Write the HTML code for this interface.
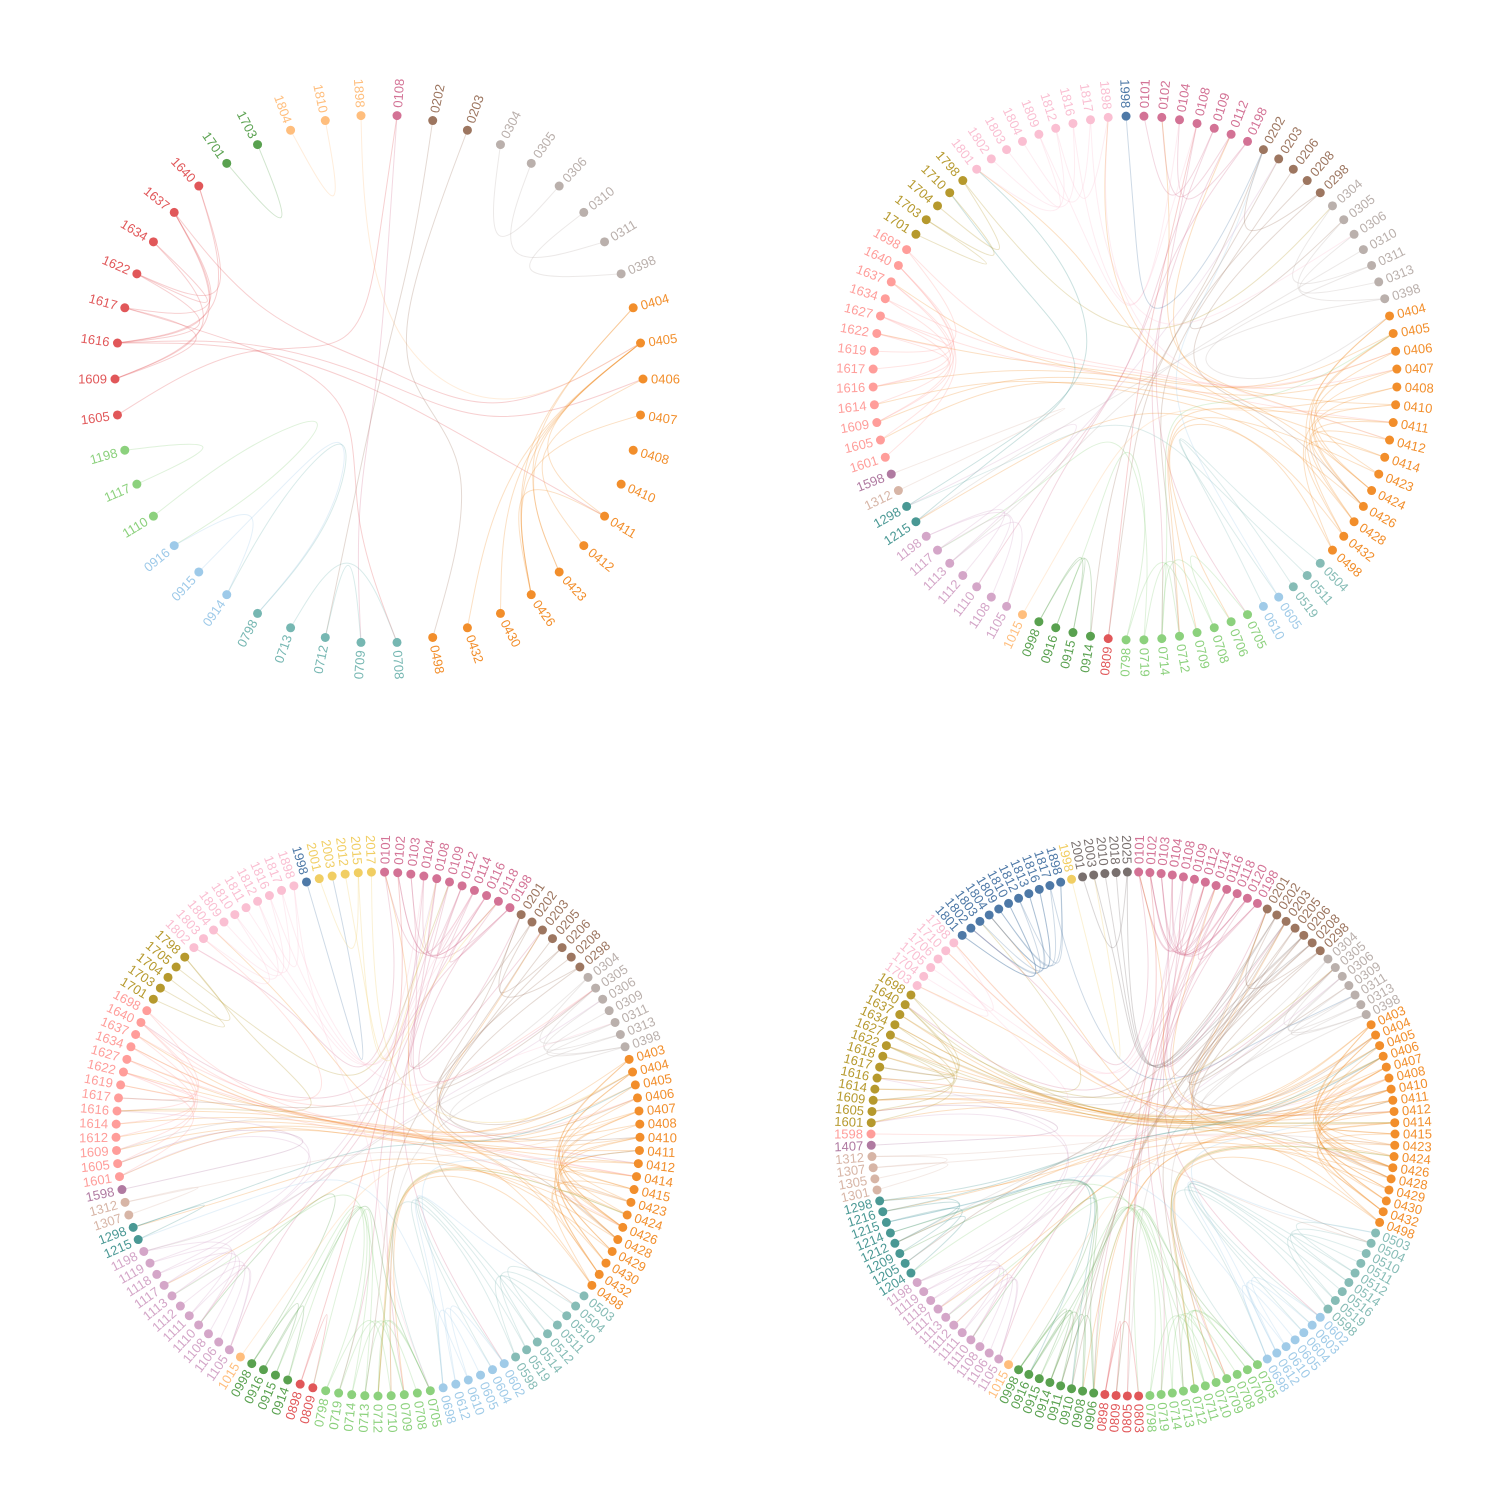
<!DOCTYPE html>
<html><head><meta charset="utf-8"><style>
html,body{margin:0;padding:0;background:#fff;}
svg{display:block;}
text{font-family:"Liberation Sans",Arial,sans-serif;font-size:13px;}
</style></head><body>
<svg id="chart" width="1512" height="1512" viewBox="0 0 1512 1512" xmlns="http://www.w3.org/2000/svg"></svg>
<script>
// ---- Panel data ----
const nodes1 = "0108 0202 0203 0304 0305 0306 0310 0311 0398 0404 0405 0406 0407 0408 0410 0411 0412 0423 0426 0430 0432 0498 0708 0709 0712 0713 0798 0914 0915 0916 1110 1117 1198 1605 1609 1616 1617 1622 1634 1637 1640 1701 1703 1804 1810 1898".split(" ");
const edges1 = "1640-1622 1640-1616 1637-1617 1637-1616 1637-1609 1634-1622 1634-1609 1622-1616 1617-1609 1605-0108 1616-0406 1616-0411 1637-0405 1617-0708 1198-1117 1110-0916 0916-0914 0915-0798 1703-1701 1804-1810 1898-0405 0108-0709 0202-0712 0203-0498 0304-0306 0305-0311 0310-0398 0404-0426 0405-0423 0405-0426 0405-0430 0405-0411 0406-0412 0407-0426 0404-0423 0713-0708 0712-0709 0798-0914 0432-0405 0411-0426".split(" ");
const colors1 = {"01":"#d37295","02":"#9d7660","03":"#bab0ac","04":"#f28e2b","07":"#76b7b2","09":"#9ecae9","11":"#8cd17d","16":"#e15759","17":"#59a14f","18":"#ffbe7d"};

const nodes2 = "0101 0102 0104 0108 0109 0112 0198 0202 0203 0206 0208 0298 0304 0305 0306 0310 0311 0313 0398 0404 0405 0406 0407 0408 0410 0411 0412 0414 0423 0424 0426 0428 0432 0498 0504 0511 0519 0605 0610 0705 0706 0708 0709 0712 0714 0719 0798 0809 0914 0915 0916 0998 1015 1105 1108 1110 1112 1113 1117 1198 1215 1298 1312 1598 1601 1605 1609 1614 1616 1617 1619 1622 1627 1634 1637 1640 1698 1701 1703 1704 1710 1798 1801 1802 1803 1804 1809 1812 1816 1817 1898 1998".split(" ");
const edges2 = "0101-0109 0102-0112 0104-0198 0108-0705 0109-1105 0112-0714 0198-1110 0202-0298 0202-0809 0203-0914 0206-0712 0208-0305 0298-0426 0304-0311 0305-0398 0306-0313 0310-1113 0311-0404 0398-1215 0404-0426 0404-0432 0405-0423 0405-0428 0405-1616 0406-0424 0406-1622 0407-0426 0407-1609 0408-0498 0408-0712 0410-0424 0410-1801 0411-0428 0411-1605 0412-0426 0412-0102 0414-0432 0414-1637 0423-0709 0424-0112 0426-1614 0428-1898 0432-1215 0498-0706 0504-0610 0511-1298 0519-0605 0605-0202 0705-0708 0706-0714 0708-0719 0709-0798 0712-0714 0714-0405 0719-1117 0798-0916 0809-0108 0914-0998 0915-0998 0916-0915 1015-0410 1105-1113 1108-1198 1110-1117 1112-1198 1113-1298 1117-0203 1215-1710 1298-1801 1312-1598 1601-1640 1605-1637 1609-1627 1614-1634 1616-1622 1617-1640 1619-1698 1622-1627 1627-0411 1634-0406 1637-1616 1640-1609 1698-0407 1701-1703 1704-1798 1710-1703 1798-0304 1801-1812 1802-1816 1803-1809 1804-1817 1809-0108 1812-1898 1816-0104 1817-0306 1898-0412 1998-0202".split(" ");
const colors2 = {"01":"#d37295","02":"#9d7660","03":"#bab0ac","04":"#f28e2b","05":"#86bcb6","06":"#a0cbe8","07":"#8cd17d","08":"#e15759","09":"#59a14f","10":"#ffbe7d","11":"#d4a6c8","12":"#499894","13":"#d7b5a6","15":"#b07aa1","16":"#ff9d9a","17":"#b6992d","18":"#fabfd2","19":"#4e79a7"};

const nodes3 = "0101 0102 0103 0104 0108 0109 0112 0114 0116 0118 0198 0201 0202 0203 0205 0206 0208 0298 0304 0305 0306 0309 0311 0313 0398 0403 0404 0405 0406 0407 0408 0410 0411 0412 0414 0415 0423 0424 0426 0428 0429 0430 0432 0498 0503 0504 0510 0511 0512 0514 0519 0598 0602 0604 0605 0610 0612 0698 0705 0708 0709 0710 0712 0713 0714 0719 0798 0809 0898 0914 0915 0916 0998 1015 1105 1106 1108 1110 1111 1112 1113 1117 1118 1119 1198 1215 1298 1307 1312 1598 1601 1605 1609 1612 1614 1616 1617 1619 1622 1627 1634 1637 1640 1698 1701 1703 1704 1705 1798 1802 1803 1804 1809 1810 1811 1812 1816 1817 1898 1998 2001 2003 2012 2015 2017".split(" ");
const edges3 = "0101-0114 0102-0118 0103-0198 0104-0116 0108-0112 0109-0201 0112-0203 0114-0709 0116-1105 0118-0305 0198-1640 0101-1802 0103-0412 0104-0719 0108-0602 0109-1110 0112-0114 0116-0198 0118-0102 0201-0298 0202-0206 0203-0410 0205-0428 0206-0713 0208-0305 0298-0504 0201-0404 0202-1617 0304-0311 0305-0398 0306-0313 0309-0398 0311-0406 0313-1198 0398-0710 0304-1609 0403-0426 0404-0428 0405-0430 0406-0423 0407-0424 0408-0432 0410-0426 0411-0429 0412-0415 0414-0426 0415-0498 0423-0428 0424-0432 0426-0404 0428-0407 0429-0411 0430-0403 0432-0410 0498-0712 0403-1616 0404-1622 0405-1614 0406-1605 0407-1612 0408-1619 0410-1601 0411-1627 0412-1634 0414-1609 0415-1637 0423-0712 0424-0710 0426-0709 0428-1117 0429-1298 0430-0101 0432-0203 0498-1804 0503-0512 0504-0519 0510-0598 0511-0514 0512-0602 0514-0604 0519-0698 0598-0705 0602-0610 0604-0612 0605-0698 0610-1215 0612-0411 0698-0503 0705-0713 0708-0714 0709-0719 0710-0798 0712-0705 0713-0809 0714-0914 0719-0915 0798-0998 0709-1113 0712-0424 0809-0898 0898-0102 0914-0916 0915-0998 0916-0705 0998-1110 1015-0407 1105-1111 1106-1113 1108-1118 1110-1119 1111-1198 1112-1105 1113-1117 1117-0108 1118-1601 1119-0306 1198-1616 1215-1298 1298-0405 1307-1312 1312-0423 1598-1605 1601-1622 1605-1640 1609-1634 1612-1637 1614-1627 1616-1698 1617-1640 1619-1622 1622-0426 1627-0406 1634-0414 1637-0305 1640-1803 1698-0414 1701-1704 1703-1798 1705-0109 1798-1616 1802-1810 1803-1812 1804-1816 1809-1817 1810-0104 1811-0114 1812-1898 1816-0116 1817-0311 1898-0705 1998-2003 2001-2015 2012-0118 2015-0108 2017-0404".split(" ");
const colors3 = {"01":"#d37295","02":"#9d7660","03":"#bab0ac","04":"#f28e2b","05":"#86bcb6","06":"#a0cbe8","07":"#8cd17d","08":"#e15759","09":"#59a14f","10":"#ffbe7d","11":"#d4a6c8","12":"#499894","13":"#d7b5a6","15":"#b07aa1","16":"#ff9d9a","17":"#b6992d","18":"#fabfd2","19":"#4e79a7","20":"#f1ce63"};

const nodes4 = "0101 0102 0103 0104 0108 0109 0112 0114 0116 0118 0120 0198 0201 0202 0203 0205 0206 0208 0298 0304 0305 0306 0309 0311 0313 0398 0403 0404 0405 0406 0407 0408 0410 0411 0412 0414 0415 0423 0424 0426 0428 0429 0430 0432 0498 0503 0504 0510 0511 0512 0514 0516 0519 0598 0602 0603 0604 0605 0610 0612 0698 0705 0706 0708 0709 0710 0711 0712 0713 0714 0719 0798 0803 0805 0809 0898 0906 0908 0910 0911 0914 0915 0916 0998 1015 1105 1106 1108 1110 1111 1112 1113 1117 1118 1119 1198 1204 1205 1209 1212 1214 1215 1216 1298 1301 1305 1307 1312 1407 1598 1601 1605 1609 1614 1616 1617 1618 1622 1627 1634 1637 1640 1698 1703 1704 1705 1706 1710 1798 1801 1802 1803 1804 1809 1810 1812 1813 1816 1817 1898 1998 2001 2003 2010 2018 2025".split(" ");
const edges4 = "0101-0114 0102-0120 0103-0198 0104-0116 0108-0118 0109-0201 0112-0203 0114-0709 0116-1105 0118-0305 0120-0102 0198-1640 0101-1802 0103-0412 0104-0719 0108-0602 0109-1110 0112-0114 0116-0198 0118-0906 0120-0809 0101-0112 0102-0116 0103-0118 0104-0120 0201-0298 0202-0206 0203-0410 0205-0428 0206-0713 0208-0305 0298-0504 0201-0404 0202-1617 0203-0910 0205-0914 0206-0911 0208-1205 0298-0309 0304-0311 0305-0398 0306-0313 0309-0398 0311-0406 0313-1198 0398-0710 0304-1609 0305-1212 0306-0805 0403-0426 0404-0428 0405-0430 0406-0423 0407-0424 0408-0432 0410-0426 0411-0429 0412-0415 0414-0426 0415-0498 0423-0428 0424-0432 0426-0404 0428-0407 0429-0411 0430-0403 0432-0410 0498-0712 0403-1616 0404-1622 0405-1614 0406-1605 0407-1618 0408-1609 0410-1601 0411-1627 0412-1634 0414-1609 0415-1637 0423-0712 0424-0710 0426-0709 0428-1117 0429-1298 0430-0101 0432-0203 0498-1804 0403-1703 0404-1710 0405-1798 0406-0906 0407-0908 0408-1212 0410-1216 0411-0201 0412-0114 0414-1112 0503-0512 0504-0519 0510-0598 0511-0514 0512-0602 0514-0604 0516-0603 0519-0698 0598-0705 0602-0610 0603-0612 0604-0612 0605-0698 0610-1215 0612-0411 0698-0503 0705-0713 0706-0711 0708-0714 0709-0719 0710-0798 0711-0803 0712-0705 0713-0809 0714-0914 0719-0915 0798-0998 0709-1113 0712-0424 0706-0906 0711-1204 0803-0898 0805-0112 0809-0898 0898-0102 0906-0911 0908-0914 0910-0916 0911-0998 0914-0916 0915-0998 0916-0705 0998-1110 0906-1209 0908-1214 1015-0407 1105-1111 1106-1113 1108-1118 1110-1119 1111-1198 1112-1105 1113-1117 1117-0108 1118-1601 1119-0306 1198-1616 1204-1212 1205-1215 1209-1298 1212-1216 1214-0916 1215-0910 1216-0405 1298-0406 1301-1307 1305-1312 1307-0504 1312-0423 1407-1605 1598-0426 1601-1622 1605-1640 1609-1634 1614-1627 1616-1698 1617-1640 1618-1622 1622-0426 1627-0406 1634-0414 1637-0305 1640-1803 1698-0414 1703-1706 1704-1798 1705-0109 1706-1616 1710-0118 1798-0408 1801-1810 1802-1812 1803-1813 1804-1816 1809-1817 1810-1801 1812-1898 1813-1802 1816-1804 1817-0311 1898-1809 1998-2003 2001-2025 2003-0202 2010-0203 2018-0206 2025-0208".split(" ");
const colors4 = {"01":"#d37295","02":"#9d7660","03":"#bab0ac","04":"#f28e2b","05":"#86bcb6","06":"#a0cbe8","07":"#8cd17d","08":"#e15759","09":"#59a14f","10":"#ffbe7d","11":"#d4a6c8","12":"#499894","13":"#d7b5a6","14":"#b07aa1","15":"#ff9d9a","16":"#b6992d","17":"#fabfd2","18":"#4e79a7","19":"#f1ce63","20":"#79706e"};

const panels = [
  {name:"panel-1", cx:379, cy:379, r:264, nodes:nodes1, edges:edges1, colors:colors1},
  {name:"panel-2", cx:1135, cy:378, r:262, nodes:nodes2, edges:edges2, colors:colors2},
  {name:"panel-3", cx:378, cy:1134, r:262, nodes:nodes3, edges:edges3, colors:colors3},
  {name:"panel-4", cx:1133, cy:1134, r:262, nodes:nodes4, edges:edges4, colors:colors4}
];

const NS = "http://www.w3.org/2000/svg";
const svg = document.getElementById("chart");

function basisPath(pts){
  let d = "", x0, y0, x1, y1, st = 0;
  function bez(x, y){
    d += "C" + ((2*x0+x1)/3).toFixed(2) + "," + ((2*y0+y1)/3).toFixed(2) + " " +
         ((x0+2*x1)/3).toFixed(2) + "," + ((y0+2*y1)/3).toFixed(2) + " " +
         ((x0+4*x1+x)/6).toFixed(2) + "," + ((y0+4*y1+y)/6).toFixed(2);
  }
  for (const [x, y] of pts){
    if (st === 0){ st = 1; d += "M" + x.toFixed(2) + "," + y.toFixed(2); }
    else if (st === 1){ st = 2; }
    else { if (st === 2){ st = 3; d += "L" + ((5*x0+x1)/6).toFixed(2) + "," + ((5*y0+y1)/6).toFixed(2); } bez(x, y); }
    x0 = x1; y0 = y1; x1 = x; y1 = y;
  }
  if (st === 3) bez(x1, y1);
  if (st >= 2) d += "L" + x1.toFixed(2) + "," + y1.toFixed(2);
  return d;
}

panels.forEach(p => {
  const g = document.createElementNS(NS, "g");
  
  
  svg.appendChild(g);
  const n = p.nodes.length;
  const ang = {};
  p.nodes.forEach((k, i) => { ang[k] = (i + 0.5) / n * 2 * Math.PI; });
  const grpAng = {}, grpCnt = {};
  p.nodes.forEach(k => { const gk = k.slice(0,2); grpAng[gk] = (grpAng[gk]||0) + ang[k]; grpCnt[gk] = (grpCnt[gk]||0) + 1; });
  Object.keys(grpAng).forEach(k => grpAng[k] /= grpCnt[k]);
  const xy = (a, rr) => [p.cx + rr*Math.sin(a), p.cy - rr*Math.cos(a)];
  const col = k => p.colors[k.slice(0,2)] || "#999";

  const eg = document.createElementNS(NS, "g");
  
  
  g.appendChild(eg);
  p.edges.forEach(e => {
    const [s, t] = e.split("-");
    if (ang[s] === undefined || ang[t] === undefined) return;
    const gs = s.slice(0,2), gt = t.slice(0,2);
    let pts;
    if (gs === gt) pts = [xy(ang[s], p.r), xy(grpAng[gs], p.r/2), xy(ang[t], p.r)];
    else pts = [xy(ang[s], p.r), xy(grpAng[gs], p.r/2), [p.cx, p.cy], xy(grpAng[gt], p.r/2), xy(ang[t], p.r)];
    const beta = 0.85, m = pts.length - 1, P0 = pts[0], Pn = pts[m];
    pts = pts.map((q, i) => [beta*q[0] + (1-beta)*(P0[0] + (Pn[0]-P0[0])*i/m), beta*q[1] + (1-beta)*(P0[1] + (Pn[1]-P0[1])*i/m)]);
    const path = document.createElementNS(NS, "path");
    
    
    path.setAttribute("d", basisPath(pts));
    path.setAttribute("fill", "none");
    path.setAttribute("stroke", col(s));
    path.setAttribute("stroke-opacity", "0.28");
    path.setAttribute("stroke-width", "1");
    eg.appendChild(path);
  });

  p.nodes.forEach(k => {
    const a = ang[k], deg = a*180/Math.PI;
    const [x, y] = xy(a, p.r);
    const c = document.createElementNS(NS, "circle");
    
    
    c.setAttribute("cx", x); c.setAttribute("cy", y); c.setAttribute("r", 4.5);
    c.setAttribute("fill", col(k));
    g.appendChild(c);
    const t = document.createElementNS(NS, "text");
    
    
    const flip = deg > 180;
    t.setAttribute("transform", "translate(" + p.cx + "," + p.cy + ") rotate(" + (deg - 90) + ") translate(" + (p.r + 8) + ",0)" + (flip ? " rotate(180)" : ""));
    t.setAttribute("text-anchor", flip ? "end" : "start");
    t.setAttribute("dy", "0.35em");
    t.setAttribute("fill", col(k));
    t.textContent = k;
    g.appendChild(t);
  });
});
</script>
</body></html>
